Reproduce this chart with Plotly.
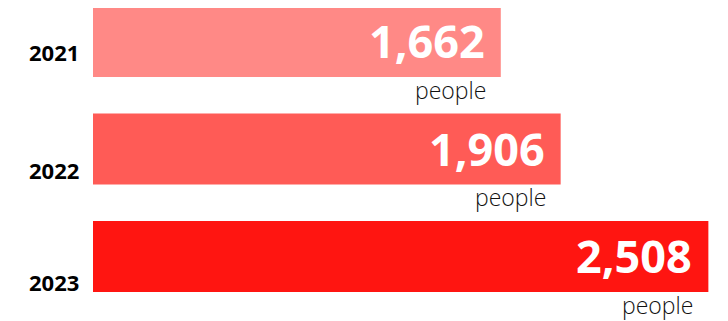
import plotly.graph_objects as go

years = ["2021", "2022", "2023"]
values = [1662, 1906, 2508]
unit_label = "people"

bar_colors = ["#FF8986", "#FF5B56", "#FF1511"]
year_label_yshift = [-10, -21, -25]

FONT = "Open Sans"

fig = go.Figure()
fig.add_trace(go.Bar(
    x=values, y=years, orientation="h",
    marker=dict(color=bar_colors, line=dict(width=0)),
    width=0.66, hoverinfo="skip", showlegend=False,
))

annotations = []
for i, (yr, v, ys) in enumerate(zip(years, values, year_label_yshift)):
    annotations.append(dict(
        x=v, y=i, xref="x", yref="y", text=f"<b>{v:,}</b>",
        showarrow=False, xanchor="right", yanchor="middle", xshift=-14, yshift=1,
        font=dict(family=FONT, size=45, color="white"),
    ))
    annotations.append(dict(
        x=v, y=i, xref="x", yref="y", text=unit_label,
        showarrow=False, xanchor="right", yanchor="middle", xshift=-13, yshift=-48,
        font=dict(family=FONT, size=23, color="#111111", weight=300),
    ))
    annotations.append(dict(
        x=0, y=i, xref="paper", yref="y", text=f"<b>{yr}</b>",
        showarrow=False, xanchor="right", yanchor="middle", xshift=-12, yshift=ys,
        font=dict(family=FONT, size=22, color="black"),
    ))

fig.update_layout(
    width=720, height=313,
    margin=dict(l=85, r=0, t=0, b=0),
    paper_bgcolor="white", plot_bgcolor="white",
    xaxis=dict(range=[0, 2588], visible=False, fixedrange=True),
    yaxis=dict(type="category", categoryorder="array", categoryarray=years,
               range=[2.6, -0.312], visible=False, fixedrange=True),
    annotations=annotations,
    font=dict(family=FONT),
)

fig.write_html("out.html", config={"displayModeBar": False})
